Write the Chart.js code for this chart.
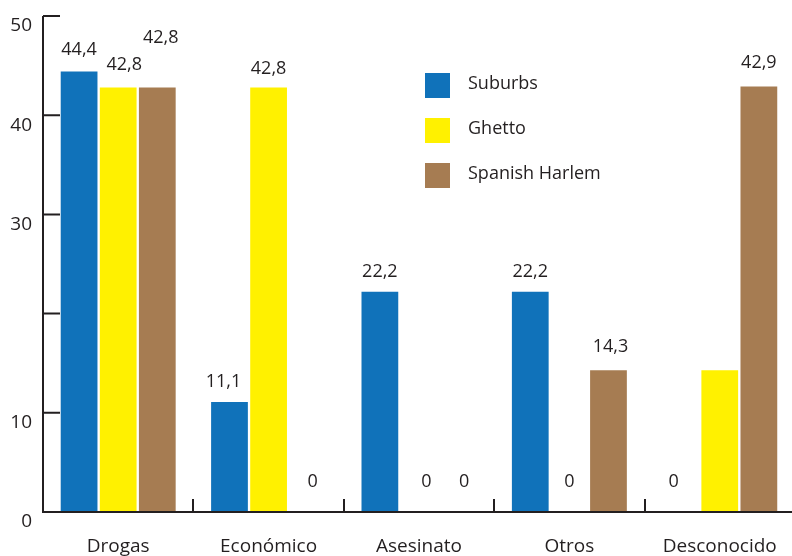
<!DOCTYPE html>
<html><head><meta charset="utf-8">
<script src="https://cdn.jsdelivr.net/npm/chart.js@4/dist/chart.umd.min.js"></script>
<style>html,body{margin:0;padding:0;overflow:hidden;background:#fff;width:792px;height:556px}canvas{display:block}</style>
</head><body>
<canvas id="c" width="800" height="556"></canvas>
<script>
// ---- data ----
const categories = ['Drogas', 'Económico', 'Asesinato', 'Otros', 'Desconocido'];
const seriesNames = ['Suburbs', 'Ghetto', 'Spanish Harlem'];
const suburbs = [44.4, 11.1, 22.2, 22.2, 0];
const ghetto = [42.8, 42.8, 0, 0, 14.3];
const spanishHarlem = [42.8, 0, 0, 14.3, 42.9];
const suburbsLabelShown = [true, true, true, true, true];
const ghettoLabelShown = [true, true, true, true, false];
const spanishHarlemLabelShown = [true, true, true, true, true];
const yTicks = [0, 10, 20, 30, 40, 50];
const yTickLabels = ['0', '10', '', '30', '40', '50'];

// ---- style ----
const colors = ['#1072ba', '#fff100', '#a67c52'];
const ink = '#231f20';
const FONT = "'Open Sans', 'DejaVu Sans', sans-serif";
// label placement relative to the bar top (px): lift above, horizontal shift
const labelLift = [[23.5, 21, 21, 21, 32], [24, 20, 32, 32, 0], [51, 32, 32, 25, 24.5]];
const labelShift = [[0, -6, 0, 0, -7], [6, 0, 7.5, 0, 0], [3.5, 5, 6, 2, 0]];

const seriesData = [suburbs, ghetto, spanishHarlem];
const labelShown = [suburbsLabelShown, ghettoLabelShown, spanishHarlemLabelShown];

function fmt(v) { return v === 0 ? '0' : v.toFixed(1).replace('.', ','); }

const axesPlugin = {
  id: 'axes',
  afterDatasetsDraw(chart) {
    const { ctx, chartArea, scales: { x, y } } = chart;
    const y0 = y.getPixelForValue(0);
    const yTop = y.getPixelForValue(50);
    const left = chartArea.left;
    ctx.save();
    ctx.strokeStyle = ink;
    ctx.lineWidth = 2;
    ctx.beginPath();
    ctx.moveTo(left, yTop); ctx.lineTo(left, y0 + 1);
    ctx.moveTo(left, y0); ctx.lineTo(chart.width, y0);
    yTicks.forEach(v => {
      const py = y.getPixelForValue(v);
      ctx.moveTo(left, py); ctx.lineTo(left + 17, py);
    });
    for (let i = 1; i < categories.length; i++) {
      const px = Math.round((x.getPixelForValue(i - 1) + x.getPixelForValue(i)) / 2);
      ctx.moveTo(px, y0); ctx.lineTo(px, y0 - 13);
    }
    ctx.stroke();
    ctx.restore();
  }
};

const labelsPlugin = {
  id: 'vlabels',
  afterDatasetsDraw(chart) {
    const { ctx } = chart;
    ctx.save();
    ctx.fillStyle = ink;
    ctx.font = '18px ' + FONT;
    ctx.textAlign = 'center';
    ctx.textBaseline = 'alphabetic';
    chart.data.datasets.forEach((ds, di) => {
      const meta = chart.getDatasetMeta(di);
      meta.data.forEach((bar, i) => {
        if (!labelShown[di][i]) return;
        const v = seriesData[di][i];
        ctx.fillText(fmt(v), bar.x + labelShift[di][i], bar.y - labelLift[di][i] + 6.5);
      });
    });
    ctx.restore();
  }
};

const legendPlugin = {
  id: 'customLegend',
  afterDraw(chart) {
    const { ctx } = chart;
    ctx.save();
    ctx.font = '18px ' + FONT;
    ctx.textAlign = 'left';
    ctx.textBaseline = 'middle';
    chart.data.datasets.forEach((ds, i) => {
      const top = 73 + i * 45;
      ctx.fillStyle = ds.backgroundColor;
      ctx.fillRect(425, top, 25, 25);
      ctx.fillStyle = ink;
      ctx.fillText(ds.label, 468, top + 11);
    });
    ctx.restore();
  }
};

new Chart(document.getElementById('c'), {
  type: 'bar',
  data: {
    labels: categories,
    datasets: seriesNames.map((n, i) => ({
      label: n, data: seriesData[i], backgroundColor: colors[i], borderWidth: 0
    }))
  },
  options: {
    responsive: false,
    animation: false,
    layout: { padding: { top: 16, left: 0, right: 2, bottom: 0 } },
    plugins: { legend: { display: false }, tooltip: { enabled: false } },
    datasets: { bar: { categoryPercentage: 0.78, barPercentage: 0.94 } },
    scales: {
      x: {
        grid: { display: false, drawTicks: false },
        border: { display: false },
        ticks: { font: { family: FONT, size: 19 }, color: ink, padding: 23, maxRotation: 0, autoSkip: false },
        afterFit(s) { s.height = 44; }
      },
      y: {
        min: 0, max: 50,
        afterBuildTicks(s) { s.ticks = yTicks.map(v => ({ value: v })); },
        grid: { display: false, drawTicks: false },
        border: { display: false },
        ticks: {
          font: { family: FONT, size: 19 }, color: ink, padding: 11, labelOffset: 10,
          callback: (v) => yTickLabels[yTicks.indexOf(v)]
        },
        afterFit(s) { s.width = 43; s.paddingTop = 0; s.paddingBottom = 0; }
      }
    }
  },
  plugins: [axesPlugin, labelsPlugin, legendPlugin]
});
</script>
</body></html>
